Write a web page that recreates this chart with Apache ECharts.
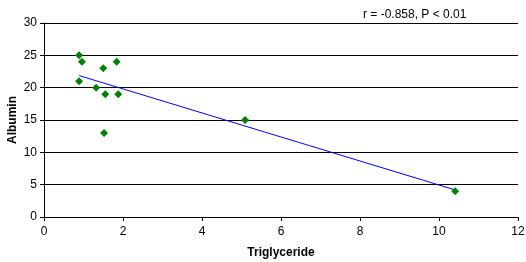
<!DOCTYPE html>
<html>
<head>
<meta charset="utf-8">
<script src="https://cdn.jsdelivr.net/npm/echarts@6/dist/echarts.min.js"></script>
<style>
  html, body { margin: 0; padding: 0; background: #fff; }
  #chart { width: 526px; height: 262px; }
</style>
</head>
<body>
<div id="chart"></div>
<script>
// values
const triglyceride = [0.89, 0.96, 1.50, 1.84, 0.89, 1.32, 1.55, 1.88, 1.52, 5.09, 10.41]
const albumin = [25, 24, 23, 24, 21, 20, 19, 19, 13, 15, 4]
const annotation = 'r = -0.858, P < 0.01'

// least squares trend line, as in the original spreadsheet chart
const n = triglyceride.length
const mx = triglyceride.reduce((a, b) => a + b, 0) / n
const my = albumin.reduce((a, b) => a + b, 0) / n
let sxy = 0, sxx = 0
for (let i = 0; i < n; i++) {
  sxy += (triglyceride[i] - mx) * (albumin[i] - my)
  sxx += (triglyceride[i] - mx) ** 2
}
const slope = sxy / sxx
const intercept = my - slope * mx
const xMin = Math.min(...triglyceride)
const xMax = Math.max(...triglyceride)
const trend = [[xMin, intercept + slope * xMin], [xMax, intercept + slope * xMax]]

const font = 'Liberation Sans, Arial, sans-serif'
const chart = echarts.init(document.getElementById('chart'))

chart.setOption({
  animation: false,
  backgroundColor: '#fff',
  grid: { left: 44, right: 8, top: 23, bottom: 45, outerBoundsMode: 'none', containLabel: false },
  title: {
    text: annotation,
    left: 358, top: 4,
    textStyle: { fontFamily: font, fontSize: 12, fontWeight: 'normal', color: '#000' },
  },
  xAxis: {
    type: 'value', min: 0, max: 12, interval: 2,
    name: 'Triglyceride', nameLocation: 'middle', nameGap: 30,
    nameTextStyle: { fontFamily: font, fontSize: 12, fontWeight: 'bold', color: '#000' },
    axisLine: { lineStyle: { color: '#000', width: 1 } },
    axisTick: { show: true, length: 4, lineStyle: { color: '#000' } },
    axisLabel: { fontFamily: font, fontSize: 12, color: '#000', margin: 9 },
    splitLine: { show: false },
  },
  yAxis: {
    type: 'value', min: 0, max: 30, interval: 5,
    name: 'Albumin', nameLocation: 'middle', nameGap: 25, nameMoveOverlap: false,
    nameTextStyle: { fontFamily: font, fontSize: 12, fontWeight: 'bold', color: '#000' },
    axisLine: { show: true, lineStyle: { color: '#000', width: 1 } },
    axisTick: { show: true, length: 4, lineStyle: { color: '#000' } },
    axisLabel: { fontFamily: font, fontSize: 12, color: '#000', margin: 7 },
    splitLine: { show: true, lineStyle: { color: '#000', width: 1 } },
  },
  series: [
    {
      type: 'line',
      data: trend,
      showSymbol: false,
      lineStyle: { color: '#0000ff', width: 1 },
      z: 2,
    },
    {
      type: 'scatter',
      data: triglyceride.map((x, i) => [x, albumin[i]]),
      symbol: 'diamond',
      symbolSize: 8,
      itemStyle: { color: '#008000', opacity: 1 },
      z: 3,
    },
  ],
})
</script>
</body>
</html>
